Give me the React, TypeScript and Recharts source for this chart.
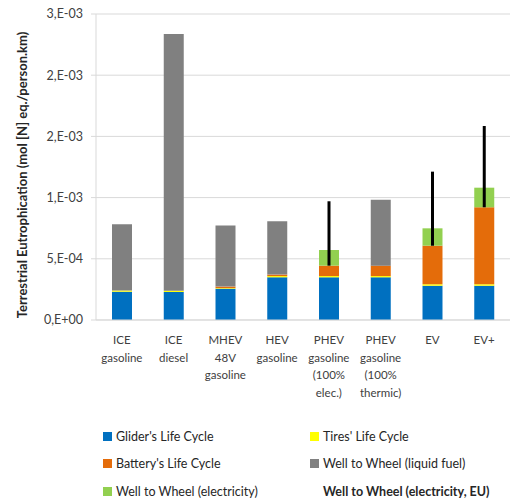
import { BarChart, Bar, XAxis, YAxis, CartesianGrid, ErrorBar, Label } from "recharts";

// vehicle categories and their multi-line axis labels
const categories = [
  "ICE gasoline",
  "ICE diesel",
  "MHEV 48V gasoline",
  "HEV gasoline",
  "PHEV elec",
  "PHEV thermic",
  "EV",
  "EV+",
];
const categoryLines = [
  ["ICE", "gasoline"],
  ["ICE", "diesel"],
  ["MHEV", "48V", "gasoline"],
  ["HEV", "gasoline"],
  ["PHEV", "gasoline", "(100%", "elec.)"],
  ["PHEV", "gasoline", "(100%", "thermic)"],
  ["EV"],
  ["EV+"],
];

// mol [N] eq./person.km
const glider = [0.000231, 0.000229, 0.000256, 0.000349, 0.000349, 0.000349, 0.00028, 0.00028];
const tires = [0.00001, 0.00001, 0.000005, 0.00001, 0.00001, 0.00001, 0.000012, 0.000012];
const battery = [0, 0, 0.000012, 0.000012, 0.000085, 0.000085, 0.000315, 0.000629];
const liquidFuel = [0.000541, 0.002098, 0.0005, 0.000435, 0, 0.000539, 0, 0];
const electricity = [0, 0, 0, 0, 0.000128, 0, 0.000142, 0.00016];
const electricityEU = [null, null, null, null, 0.00097, null, 0.001212, 0.001585];

const yTicks = [0, 0.0005, 0.001, 0.0015, 0.002, 0.0025];
const yTickLabels = ["0,E+00", "5,E-04", "1,E-03", "2,E-03", "2,E-03", "3,E-03"];

const series = [
  { key: "glider", label: "Glider's Life Cycle", color: "#0070C0" },
  { key: "tires", label: "Tires' Life Cycle", color: "#FFFF00" },
  { key: "battery", label: "Battery's Life Cycle", color: "#E46C0A" },
  { key: "liquidFuel", label: "Well to Wheel (liquid fuel)", color: "#808080" },
  { key: "electricity", label: "Well to Wheel (electricity)", color: "#92D050" },
];
const euLabel = "Well to Wheel (electricity, EU)";

const data = categories.map((name, i) => {
  const batteryTop = glider[i] + tires[i] + battery[i];
  const eu = electricityEU[i];
  return {
    name,
    glider: glider[i],
    tires: tires[i],
    battery: battery[i],
    liquidFuel: liquidFuel[i],
    electricity: electricity[i],
    euError: eu == null ? [0, 0] : [0, eu - batteryTop],
  };
});

const edges = categories.map((_, i) => i).concat(categories.length);

const CategoryTick = (props: any) => {
  const { x, y, index } = props;
  const lines = categoryLines[index] || [];
  return (
    <text x={x} y={y} textAnchor="middle" fill="#404040" fontSize={11.5}>
      {lines.map((l, i) => (
        <tspan key={i} x={x} dy={i === 0 ? 24 : 17.7}>
          {l}
        </tspan>
      ))}
    </text>
  );
};

const YTitle = (props: any) => {
  const vb = props.viewBox;
  const cx = 22;
  const cy = vb.y + vb.height / 2 + 8;
  return (
    <text
      x={cx}
      y={cy}
      transform={`rotate(-90, ${cx}, ${cy})`}
      textAnchor="middle"
      dominantBaseline="central"
      fontSize={13}
      fontWeight="bold"
      fill="#262626"
    >
      Terrestrial Eutrophication (mol [N] eq./person.km)
    </text>
  );
};

const legendItems = [...series.map((s) => ({ label: s.label, color: s.color as string | null })), { label: euLabel, color: null }];

export default function App() {
  return (
    <div
      style={{
        position: "absolute",
        left: 0,
        top: 0,
        width: 511,
        height: 504,
        background: "#fff",
        fontFamily: "Lato, 'Open Sans', sans-serif",
      }}
    >
      <BarChart width={511} height={504} data={data} margin={{ top: 14, right: 1, bottom: 0, left: 0 }} barSize={20}>
        <CartesianGrid vertical={false} stroke="#d9d9d9" xAxisId="cat" />
        <XAxis
          xAxisId="edge"
          type="number"
          domain={[0, categories.length]}
          ticks={edges}
          interval={0}
          allowDataOverflow
          tick={false}
          axisLine={false}
          tickLine={{ stroke: "#d9d9d9" }}
          tickSize={5}
          height={0}
        />
        <XAxis
          xAxisId="cat"
          dataKey="name"
          height={184}
          interval={0}
          tickLine={false}
          tickSize={0}
          tickMargin={0}
          axisLine={{ stroke: "#d9d9d9" }}
          tick={<CategoryTick />}
        />
        <YAxis
          width={96}
          domain={[0, 0.0025]}
          ticks={yTicks}
          interval={0}
          allowDataOverflow
          axisLine={{ stroke: "#d9d9d9" }}
          tickLine={{ stroke: "#d9d9d9" }}
          tickSize={5}
          tickMargin={8}
          tick={{ fill: "#404040", fontSize: 12.5 }}
          tickFormatter={(v: number) => yTickLabels[yTicks.indexOf(v)] ?? ""}
        >
          <Label content={<YTitle />} />
        </YAxis>
        {series.map((s) => (
          <Bar key={s.key} xAxisId="cat" dataKey={s.key} stackId="a" fill={s.color} isAnimationActive={false}>
            {s.key === "battery" && (
              <ErrorBar dataKey="euError" direction="y" width={0} stroke="#000" strokeWidth={3} isAnimationActive={false} />
            )}
          </Bar>
        ))}
      </BarChart>
      {legendItems.map((item, k) => {
        const col = k % 2;
        const row = Math.floor(k / 2);
        return (
          <div
            key={item.label}
            style={{
              position: "absolute",
              left: col === 0 ? 103 : 310,
              top: 436 + row * 27.5 - 9,
              height: 18,
              display: "flex",
              alignItems: "center",
              fontSize: 12.5,
              color: "#262626",
              fontWeight: item.color ? "normal" : "bold",
              whiteSpace: "nowrap",
            }}
          >
            <span
              style={{
                display: "inline-block",
                width: 9,
                height: 9,
                marginRight: 4,
                background: item.color ?? "transparent",
              }}
            />
            {item.label}
          </div>
        );
      })}
    </div>
  );
}
